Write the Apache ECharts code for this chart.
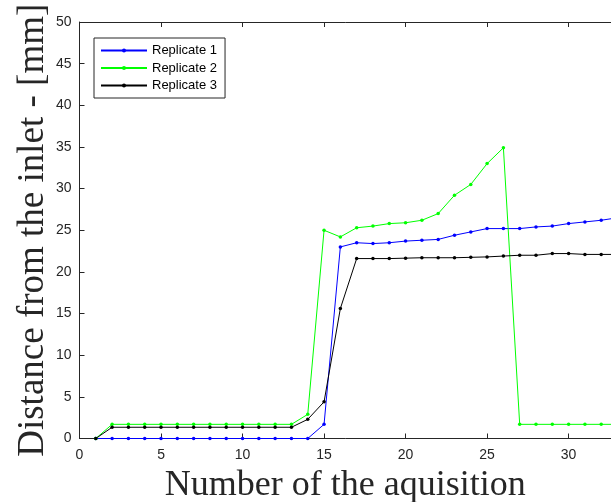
<!DOCTYPE html>
<html>
<head>
<meta charset="utf-8">
<script src="https://cdn.jsdelivr.net/npm/echarts@6/dist/echarts.min.js"></script>
<style>
html,body{margin:0;padding:0;background:#fff;}
#main{width:611px;height:502px;}
</style>
</head>
<body>
<div id="main"></div>
<script>
// acquisition number 1..33
var acq = [1,2,3,4,5,6,7,8,9,10,11,12,13,14,15,16,17,18,19,20,21,22,23,24,25,26,27,28,29,30,31,32,33];
var rep1 = [0,0,0,0,0,0,0,0,0,0,0,0,0,0,1.7,23.0,23.5,23.4,23.5,23.7,23.8,23.9,24.4,24.8,25.2,25.2,25.2,25.4,25.5,25.8,26.0,26.2,26.5];
var rep2 = [0,1.7,1.7,1.7,1.7,1.7,1.7,1.7,1.7,1.7,1.7,1.7,1.7,2.9,25.0,24.2,25.3,25.5,25.8,25.9,26.2,27.0,29.2,30.5,33.0,34.9,1.7,1.7,1.7,1.7,1.7,1.7,1.7];
var rep3 = [0,1.35,1.35,1.35,1.35,1.35,1.35,1.35,1.35,1.35,1.35,1.35,1.35,2.3,4.4,15.6,21.6,21.6,21.6,21.65,21.7,21.7,21.7,21.75,21.8,21.9,22.0,22.0,22.2,22.2,22.1,22.1,22.1];
var names = ['Replicate 1','Replicate 2','Replicate 3'];
var colors = ['#0000ff','#00ff00','#000000'];

function pairs(ys){
    var out=[];
    for(var i=0;i<acq.length;i++){ out.push([acq[i],ys[i]]); }
    return out;
}

var myChart = echarts.init(document.getElementById('main'));
var axisCol = '#262626';
var tickFont = {color:axisCol,fontSize:14,fontFamily:'Liberation Sans'};

var option = {
    animation:false,
    backgroundColor:'#fff',
    grid:{left:79.5,top:22,right:0,bottom:63.5,outerBoundsMode:'none',containLabel:false},
    legend:{
        left:94,top:38,
        orient:'vertical',
        itemWidth:46,itemHeight:5,itemGap:4.5,
        padding:[6,8,6,6],
        borderColor:'#262626',borderWidth:1,
        backgroundColor:'#fff',
        textStyle:{fontFamily:'Liberation Sans',fontSize:13,color:'#000'},
        data:names
    },
    xAxis:[{
        type:'value',min:0,max:32.6,interval:5,
        position:'bottom',
        name:'Number of the aquisition',nameLocation:'middle',nameGap:19,
        nameTextStyle:{fontFamily:'Liberation Serif',fontSize:36,color:'#262626'},
        axisLine:{show:true,onZero:false,lineStyle:{color:axisCol,width:1}},
        axisTick:{show:true,inside:true,length:5,lineStyle:{color:axisCol}},
        axisLabel:Object.assign({margin:10,showMaxLabel:false},tickFont),
        splitLine:{show:false}
    },{
        type:'value',min:0,max:32.6,interval:5,
        position:'top',
        axisLine:{show:true,onZero:false,lineStyle:{color:axisCol,width:1}},
        axisTick:{show:true,inside:true,length:5,lineStyle:{color:axisCol}},
        axisLabel:{show:false},
        splitLine:{show:false}
    }],
    yAxis:{
        type:'value',min:0,max:50,interval:5,
        name:'Distance from the inlet - [mm]',nameLocation:'middle',nameGap:28,nameRotate:90,
        nameMoveOverlap:false,
        nameTextStyle:{fontFamily:'Liberation Serif',fontSize:37,color:'#262626'},
        axisLine:{show:true,onZero:false,lineStyle:{color:axisCol,width:1}},
        axisTick:{show:true,inside:true,length:5,lineStyle:{color:axisCol}},
        axisLabel:Object.assign({margin:8},tickFont),
        splitLine:{show:false}
    },
    series:[rep1,rep2,rep3].map(function(d,i){
        return {
            name:names[i],type:'line',xAxisIndex:0,
            data:pairs(d),
            symbol:'circle',symbolSize:3.5,
            showSymbol:true,
            lineStyle:{color:colors[i],width:1},
            itemStyle:{color:colors[i]},
            clip:true
        };
    })
};

myChart.setOption(option);
</script>
</body>
</html>
